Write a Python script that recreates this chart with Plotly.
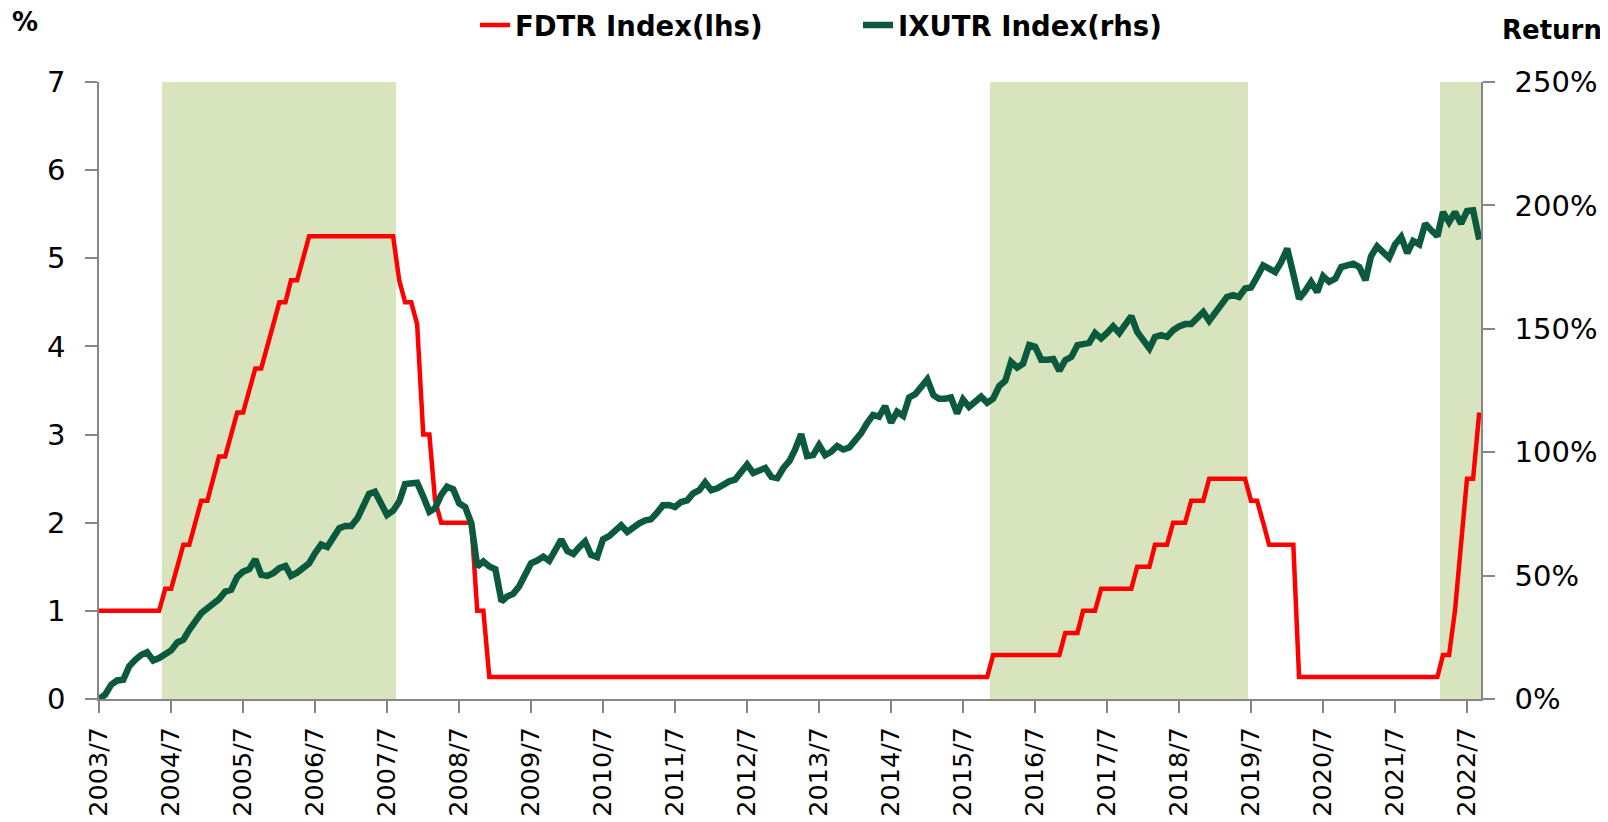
import pandas as pd
import plotly.graph_objects as go

# ---------------- data ----------------
# Monthly observations starting 2003/7 and ending 2022/9
start_month = "2003-07-01"

# FDTR Index (Fed funds target, upper bound, %), month-end values by calendar year
fdtr_2003 = [1.00, 1.00, 1.00, 1.00, 1.00, 1.00]
fdtr_2004 = [1.00, 1.00, 1.00, 1.00, 1.00, 1.25, 1.25, 1.50, 1.75, 1.75, 2.00, 2.25]
fdtr_2005 = [2.25, 2.50, 2.75, 2.75, 3.00, 3.25, 3.25, 3.50, 3.75, 3.75, 4.00, 4.25]
fdtr_2006 = [4.50, 4.50, 4.75, 4.75, 5.00, 5.25, 5.25, 5.25, 5.25, 5.25, 5.25, 5.25]
fdtr_2007 = [5.25, 5.25, 5.25, 5.25, 5.25, 5.25, 5.25, 5.25, 4.75, 4.50, 4.50, 4.25]
fdtr_2008 = [3.00, 3.00, 2.25, 2.00, 2.00, 2.00, 2.00, 2.00, 2.00, 1.00, 1.00, 0.25]
fdtr_2009 = [0.25, 0.25, 0.25, 0.25, 0.25, 0.25, 0.25, 0.25, 0.25, 0.25, 0.25, 0.25]
fdtr_2010 = [0.25, 0.25, 0.25, 0.25, 0.25, 0.25, 0.25, 0.25, 0.25, 0.25, 0.25, 0.25]
fdtr_2011 = [0.25, 0.25, 0.25, 0.25, 0.25, 0.25, 0.25, 0.25, 0.25, 0.25, 0.25, 0.25]
fdtr_2012 = [0.25, 0.25, 0.25, 0.25, 0.25, 0.25, 0.25, 0.25, 0.25, 0.25, 0.25, 0.25]
fdtr_2013 = [0.25, 0.25, 0.25, 0.25, 0.25, 0.25, 0.25, 0.25, 0.25, 0.25, 0.25, 0.25]
fdtr_2014 = [0.25, 0.25, 0.25, 0.25, 0.25, 0.25, 0.25, 0.25, 0.25, 0.25, 0.25, 0.25]
fdtr_2015 = [0.25, 0.25, 0.25, 0.25, 0.25, 0.25, 0.25, 0.25, 0.25, 0.25, 0.25, 0.50]
fdtr_2016 = [0.50, 0.50, 0.50, 0.50, 0.50, 0.50, 0.50, 0.50, 0.50, 0.50, 0.50, 0.75]
fdtr_2017 = [0.75, 0.75, 1.00, 1.00, 1.00, 1.25, 1.25, 1.25, 1.25, 1.25, 1.25, 1.50]
fdtr_2018 = [1.50, 1.50, 1.75, 1.75, 1.75, 2.00, 2.00, 2.00, 2.25, 2.25, 2.25, 2.50]
fdtr_2019 = [2.50, 2.50, 2.50, 2.50, 2.50, 2.50, 2.25, 2.25, 2.00, 1.75, 1.75, 1.75]
fdtr_2020 = [1.75, 1.75, 0.25, 0.25, 0.25, 0.25, 0.25, 0.25, 0.25, 0.25, 0.25, 0.25]
fdtr_2021 = [0.25, 0.25, 0.25, 0.25, 0.25, 0.25, 0.25, 0.25, 0.25, 0.25, 0.25, 0.25]
fdtr_2022 = [0.25, 0.25, 0.50, 0.50, 1.00, 1.75, 2.50, 2.50, 3.25]

# IXUTR Index cumulative return (%), monthly by calendar year
ixutr_2003 = [0.0, 1.7, 5.8, 7.5, 7.8, 13.2]
ixutr_2004 = [15.9, 17.9, 18.9, 15.6, 16.6, 17.9, 19.7, 22.9, 24.0, 28.0, 31.8, 34.8]
ixutr_2005 = [36.8, 38.8, 40.5, 43.5, 44.2, 49.4, 51.6, 52.6, 56.6, 50.3, 49.9, 51.0]
ixutr_2006 = [53.0, 53.9, 49.9, 51.2, 53.0, 55.0, 59.1, 62.6, 61.6, 66.0, 69.2, 70.1]
ixutr_2007 = [70.1, 73.2, 78.2, 83.1, 84.0, 79.3, 74.6, 76.3, 80.0, 87.1, 87.6, 87.6]
ixutr_2008 = [82.0, 75.9, 77.3, 82.7, 86.0, 85.0, 79.3, 77.7, 71.2, 53.7, 55.7, 53.7]
ixutr_2009 = [52.6, 39.5, 41.5, 42.6, 45.6, 51.0, 55.0, 56.1, 57.7, 56.0, 60.0, 64.6]
ixutr_2010 = [60.0, 58.8, 61.4, 63.8, 58.4, 57.5, 64.7, 66.0, 68.2, 70.4, 67.7, 69.5]
ixutr_2011 = [71.2, 72.4, 72.8, 75.5, 78.5, 78.6, 77.8, 79.8, 80.5, 83.3, 84.6, 87.8]
ixutr_2012 = [84.6, 85.4, 86.9, 88.2, 88.9, 92.3, 95.0, 91.6, 92.6, 93.6, 90.0, 89.5]
ixutr_2013 = [93.6, 96.5, 101.0, 107.3, 98.4, 98.8, 102.9, 98.8, 100.2, 102.5, 101.1, 101.9]
ixutr_2014 = [104.9, 107.9, 111.7, 115.1, 114.4, 118.7, 112.0, 116.4, 114.7, 122.2, 123.5, 126.2]
ixutr_2015 = [129.5, 123.1, 121.7, 121.7, 122.2, 115.7, 121.4, 118.4, 120.8, 122.5, 120.0, 121.7]
ixutr_2016 = [126.8, 129.0, 136.6, 134.3, 135.9, 143.4, 142.7, 137.5, 137.5, 137.8, 133.0, 137.3]
ixutr_2017 = [138.6, 143.4, 143.8, 144.3, 148.3, 146.1, 148.3, 151.0, 148.3, 152.1, 155.1, 148.7]
ixutr_2018 = [145.1, 142.0, 146.7, 147.4, 146.7, 149.4, 151.0, 151.9, 151.9, 154.2, 156.8, 153.2]
ixutr_2019 = [156.8, 160.5, 162.9, 163.6, 162.9, 166.3, 166.7, 171.0, 175.7, 174.4, 173.0, 177.0]
ixutr_2020 = [182.5, 172.2, 162.2, 165.3, 169.0, 164.9, 171.3, 169.0, 170.3, 175.0, 176.0, 176.4]
ixutr_2021 = [175.0, 169.7, 179.4, 183.4, 181.1, 178.8, 184.2, 187.2, 180.7, 185.6, 184.2, 192.6]
ixutr_2022 = [189.9, 187.5, 197.3, 193.2, 197.3, 192.6, 197.7, 198.0, 186.1]

# Shaded (rate-hiking) periods, first and last month
shade_periods = [("2004-06-01", "2007-08-01"),
                 ("2015-12-01", "2019-06-01"),
                 ("2022-03-01", "2022-09-01")]

series_names = ["FDTR Index(lhs)", "IXUTR Index(rhs)"]
left_title = "%"
right_title = "Return"

# ---------------- build ----------------
fdtr = (fdtr_2003 + fdtr_2004 + fdtr_2005 + fdtr_2006 + fdtr_2007 + fdtr_2008 +
        fdtr_2009 + fdtr_2010 + fdtr_2011 + fdtr_2012 + fdtr_2013 + fdtr_2014 +
        fdtr_2015 + fdtr_2016 + fdtr_2017 + fdtr_2018 + fdtr_2019 + fdtr_2020 +
        fdtr_2021 + fdtr_2022)
ixutr = (ixutr_2003 + ixutr_2004 + ixutr_2005 + ixutr_2006 + ixutr_2007 + ixutr_2008 +
         ixutr_2009 + ixutr_2010 + ixutr_2011 + ixutr_2012 + ixutr_2013 + ixutr_2014 +
         ixutr_2015 + ixutr_2016 + ixutr_2017 + ixutr_2018 + ixutr_2019 + ixutr_2020 +
         ixutr_2021 + ixutr_2022)

months = pd.date_range(start_month, periods=len(fdtr), freq="MS")
Y_MAX = 7
shade = []
for d in months:
    inside = any(pd.Timestamp(s) <= d <= pd.Timestamp(e) for s, e in shade_periods)
    shade.append(Y_MAX if inside else None)

FONT = "DejaVu Sans"
AX = "#868686"
SHADE = "#D7E4BD"
RED = "#FF0000"
GREEN = "#0B5A3D"

fig = go.Figure()
fig.add_trace(go.Bar(x=months, y=shade, width=31 * 86400000,
                     marker=dict(color=SHADE, line=dict(width=0)),
                     showlegend=False, hoverinfo="skip", yaxis="y"))
fig.add_trace(go.Scatter(x=months, y=fdtr, mode="lines", name=series_names[0],
                         line=dict(color=RED, width=4.5), yaxis="y", legend="legend"))
fig.add_trace(go.Scatter(x=months, y=ixutr, mode="lines", name=series_names[1],
                         line=dict(color=GREEN, width=6.5), yaxis="y2", legend="legend2"))

# The page puts the figure 8 px in from the top-left corner; target page
# plot area: x 99..1481, y 82..699
OFF = 8
W, H = 1608 - OFF, 822 - OFF
L, T = 99 - OFF, 82 - OFF
R = W - (1481 - OFF)
B = H - (699 - OFF)
pw = W - L - R
ph = H - T - B

def px_x(x):          # page pixel -> paper x
    return (x - OFF - L) / pw

def px_y(y):          # page pixel -> paper y
    return (H - B - (y - OFF)) / ph

axis_common = dict(showline=True, linecolor=AX, linewidth=1.5, ticks="outside",
                   ticklen=12, tickwidth=1.5, tickcolor=AX, showgrid=False,
                   zeroline=False, automargin=False)

legend_common = dict(orientation="h", yanchor="middle", xanchor="left",
                     xref="container", yref="container",
                     bgcolor="rgba(0,0,0,0)",
                     font=dict(family=FONT, size=27.5, color="#000000", weight="bold"))

fig.update_layout(
    width=W, height=H,
    margin=dict(l=L, r=R, t=T, b=B, autoexpand=False),
    paper_bgcolor="white", plot_bgcolor="white",
    barmode="overlay", bargap=0,
    xaxis=dict(type="date", range=["2003-07-01", "2022-09-10"],
               tick0="2003-07-01", dtick="M12", tickformat="%Y/%-m",
               tickangle=-90, ticklabelstandoff=4,
               tickfont=dict(family=FONT, size=25.5, color="#000000"), **axis_common),
    yaxis=dict(range=[0, 7], dtick=1, ticklabelstandoff=14,
               tickfont=dict(family=FONT, size=29, color="#000000"), **axis_common),
    yaxis2=dict(range=[0, 250], dtick=50, ticksuffix="%", overlaying="y", side="right",
                ticklabelstandoff=14,
                tickfont=dict(family=FONT, size=29, color="#000000"), **axis_common),
    legend=dict(x=(475 - OFF) / W, y=1 - (25 - OFF) / H, **legend_common),
    legend2=dict(x=(858 - OFF) / W, y=1 - (25 - OFF) / H, **legend_common),
    annotations=[
        dict(text=left_title, x=px_x(25), y=px_y(22), xref="paper", yref="paper",
             showarrow=False, xanchor="center", yanchor="middle",
             font=dict(family=FONT, size=26, color="#000000", weight="bold")),
        dict(text=right_title, x=px_x(1552), y=px_y(30), xref="paper", yref="paper",
             showarrow=False, xanchor="center", yanchor="middle",
             font=dict(family=FONT, size=26, color="#000000", weight="bold")),
    ],
)

fig.write_html("out.html")
